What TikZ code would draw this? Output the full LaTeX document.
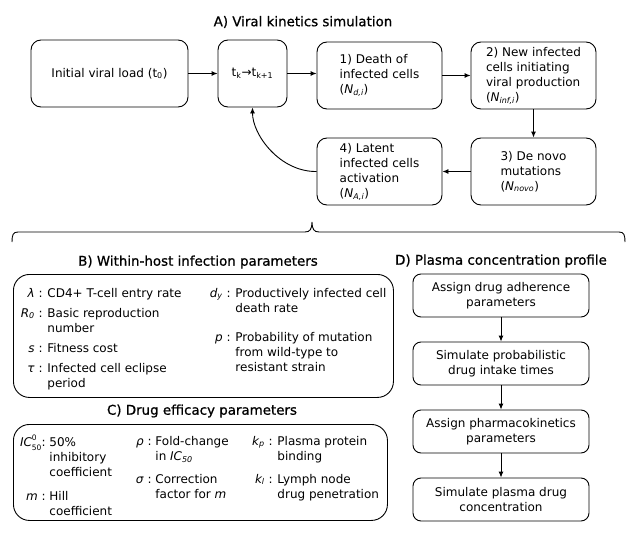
\documentclass[tikz,border=0pt]{standalone}
\usepackage{fontspec}
\setmainfont{DejaVu Sans}
\newfontfamily\ttlfont{DejaVu Sans}[FakeBold=0.8]
\usetikzlibrary{arrows.meta}
\newcommand\pentry[6]{%
  \node[sym] (#1s) at (#2,#4) {#5};
  \node[desc] (#1t) at (#3,{#4-10.5}) {\strut #6};}
\begin{document}
\begin{tikzpicture}[x=1pt,y=-1pt,line width=0.9pt,
  font=\fontsize{12}{15}\selectfont,
  box/.style={draw,rounded corners=10pt,inner sep=0pt,align=left},
  dbox/.style={draw,rounded corners=8pt,minimum width=176pt,minimum height=43pt,inner sep=0pt,align=center},
  panel/.style={draw,rounded corners=16pt,inner sep=0pt,anchor=north west},
  ttl/.style={font=\ttlfont\fontsize{13.4}{16}\selectfont},
  sym/.style={anchor=base east,inner sep=0pt},
  desc/.style={anchor=north west,inner sep=0pt,align=left},
  arr/.style={-{Latex[length=6pt,width=5pt]}}]
\useasboundingbox (0,0) rectangle (633,538);
\fill[white] (0,0) rectangle (633,538);

% ---------- A ----------
\node[ttl] (tA) at (303,22) {A) Viral kinetics simulation};
\node[box,align=center,minimum width=157pt,minimum height=67pt] (init) at (109.5,73.5) {Initial viral load (t\textsubscript{0})};
\node[box,align=center,minimum width=69pt,minimum height=67pt] (tk) at (252.5,73.5) {t\textsubscript{k}→t\textsubscript{k+1}};
\node[box,minimum width=125pt,minimum height=67pt] (s1) at (379.5,75.5) {1) Death of\\infected cells\\(\textit{N\textsubscript{d,i}})};
\node[box,minimum width=125pt,minimum height=67pt] (s2) at (533.5,75.5) {2) New infected\\cells initiating\\viral production\\(\textit{N\textsubscript{inf,i}})};
\node[box,minimum width=125pt,minimum height=67pt] (s3) at (533.5,171.5) {3) De novo\\mutations\\(\textit{N\textsubscript{novo}})};
\node[box,minimum width=125pt,minimum height=67pt] (s4) at (379.5,171.5) {4) Latent\\infected cells\\activation\\(\textit{N\textsubscript{A,i}})};
\draw[arr] (init) -- (tk);
\draw[arr] (tk.east) -- (tk.east -| s1.west);
\draw[arr] (s1) -- (s2);
\draw[arr] (s2) -- (s3);
\draw[arr] (s3) -- (s4);
\draw[arr] (s4.west) .. controls (280,172) and (252.5,135) .. (tk.south);

% ---------- brace ----------
\draw (12,242) .. controls (12,235) and (13,232) .. (18,232) -- (305,232)
  .. controls (310,232) and (312,229) .. (312,222)
  .. controls (312,229) and (314,232) .. (319,232) -- (619,232)
  .. controls (624,232) and (625,235) .. (625,242);

% ---------- B ----------
\node[ttl] (tB) at (198,262) {B) Within-host infection parameters};
\node[panel,minimum width=380pt,minimum height=123pt] (pB) at (13,274) {};
\pentry{lam}{43}{47}{297}{\textit{λ} :}{CD4+ T-cell entry rate}
\pentry{rr}{43}{47}{317}{\textit{R\textsubscript{0}} :}{Basic reproduction\\number}
\pentry{ss}{43}{47}{352}{\textit{s} :}{Fitness cost}
\pentry{tau}{43}{47}{372}{\textit{τ} :}{Infected cell eclipse\\period}
\pentry{dy}{231}{235}{297}{\textit{d\textsubscript{y}} :}{Productively infected cell\\death rate}
\pentry{pp}{231}{235}{341}{\textit{p} :}{Probability of mutation\\from wild-type to\\resistant strain}

% ---------- C ----------
\node[ttl] (tC) at (202,411) {C) Drug efficacy parameters};
\node[panel,minimum width=374pt,minimum height=96pt] (pC) at (13,424) {};
\pentry{ic}{46}{49}{446}{\textit{IC}\rlap{\raisebox{6pt}{\fontsize{7.5}{8}\selectfont 0}}\raisebox{-4pt}{\fontsize{7.5}{8}\selectfont 50}:}{50\%\\inhibitory\\coefficient}
\pentry{mm}{46}{49}{500}{\textit{m} :}{Hill\\coefficient}
\pentry{rho}{152}{155}{445}{\textit{ρ} :}{Fold-change\\in \textit{IC\textsubscript{50}}}
\pentry{sig}{152}{155}{483}{\textit{σ} :}{Correction\\factor for \textit{m}}
\pentry{kp}{273}{277}{445}{\textit{k\textsubscript{p}} :}{Plasma protein\\binding}
\pentry{kl}{273}{277}{483}{\textit{k\textsubscript{l}} :}{Lymph node\\drug penetration}

% ---------- D ----------
\node[ttl] (tD) at (501,261) {D) Plasma concentration profile};
\node[dbox] (d1) at (501,295.5) {Assign drug adherence\\parameters};
\node[dbox] (d2) at (501,363.5) {Simulate probabilistic\\drug intake times};
\node[dbox] (d3) at (501,431.5) {Assign pharmacokinetics\\parameters};
\node[dbox] (d4) at (501,499.5) {Simulate plasma drug\\concentration};
\draw[arr] (d1) -- (d2);
\draw[arr] (d2) -- (d3);
\draw[arr] (d3) -- (d4);
\end{tikzpicture}
\end{document}
